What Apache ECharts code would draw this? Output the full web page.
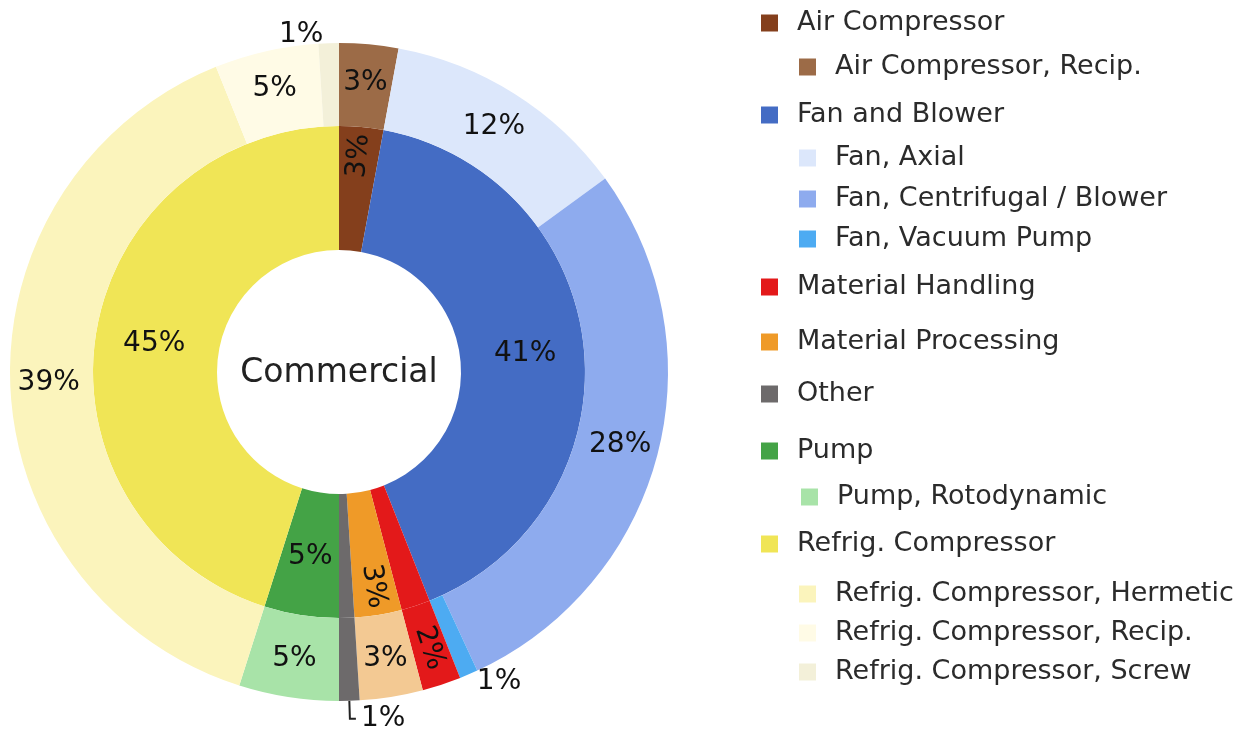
<!DOCTYPE html>
<html>
<head>
<meta charset="utf-8">
<script src="https://cdn.jsdelivr.net/npm/echarts@6/dist/echarts.min.js"></script>
<style>
  html, body { margin: 0; padding: 0; background: #fff; }
  #chart { width: 1236px; height: 729px; }
</style>
</head>
<body>
<div id="chart"></div>
<script>
// inner ring: equipment categories (share of total, %)
const categories = ['Air Compressor', 'Fan and Blower', 'Material Handling', 'Material Processing', 'Other', 'Pump', 'Refrig. Compressor']
const categoryValues = [2.9, 41.1, 1.9, 3.1, 1.0, 4.9, 45.1]

// outer ring: sub-types, in the same order round the ring
const subNames = [
  'Air Compressor, Recip.', 'Fan, Axial', 'Fan, Centrifugal / Blower', 'Fan, Vacuum Pump',
  'Material Handling', 'Material Processing', 'Other', 'Pump, Rotodynamic',
  'Refrig. Compressor, Hermetic', 'Refrig. Compressor, Recip.', 'Refrig. Compressor, Screw',
]
const subValues = [2.9, 12.1, 28.1, 0.9, 1.9, 3.1, 1.0, 4.9, 39.0, 5.1, 1.0]

// styles
const innerColors = ['#843f1c', '#446cc4', '#e3191a', '#ef9a28', '#6d6a6b', '#44a346', '#f0e556']
const outerColors = ['#9c6b47', '#dce7fb', '#8eabee', '#4dabf2', '#e3191a', '#f3c993', '#6d6a6b', '#a8e3a8', '#fbf4bc', '#fffbe6', '#f3f0d9']

const FONT = '"DejaVu Sans", Verdana, sans-serif'
const CENTER = [339, 372]

// per-item label tweaks (by name)
const innerLabelOpts = {
  'Air Compressor': { rotate: 'radial', offset: [30, 0] },
  'Material Handling': { show: false },
  'Material Processing': { rotate: 'radial', offset: [30, 0] },
  'Other': { show: false },
}
const outerLabelOpts = {
  'Material Handling': { rotate: 'radial' },
  'Fan, Vacuum Pump': { position: 'outside' },
  'Refrig. Compressor, Screw': { position: 'outside' },
  'Other': { position: 'outside' },
}
const outerLineOpts = {
  'Other': { show: true, length: 18, length2: 6, lineStyle: { color: '#222', width: 2 } },
}

const pctLabel = (p) => Math.round(p.percent) + '%'

const innerData = categories.map((name, i) => ({
  name,
  value: categoryValues[i],
  itemStyle: { color: innerColors[i] },
  label: innerLabelOpts[name] || {},
}))

const outerData = subNames.map((name, i) => ({
  name,
  value: subValues[i],
  itemStyle: { color: outerColors[i] },
  label: outerLabelOpts[name] || {},
  labelLine: outerLineOpts[name] || { show: false, length: 8, length2: 0 },
}))

// legend rows: name, icon left x, centre y
const legendRows = [
  ['Air Compressor', 761, 22],
  ['Air Compressor, Recip.', 799, 66],
  ['Fan and Blower', 761, 114],
  ['Fan, Axial', 799, 157],
  ['Fan, Centrifugal / Blower', 799, 198],
  ['Fan, Vacuum Pump', 799, 238],
  ['Material Handling', 761, 286],
  ['Material Processing', 761, 341],
  ['Other', 761, 393],
  ['Pump', 761, 450],
  ['Pump, Rotodynamic', 801, 496],
  ['Refrig. Compressor', 761, 543],
  ['Refrig. Compressor, Hermetic', 799, 593],
  ['Refrig. Compressor, Recip.', 799, 632],
  ['Refrig. Compressor, Screw', 799, 671],
]

const chart = echarts.init(document.getElementById('chart'))

const labelBase = {
  show: true,
  position: 'inside',
  formatter: pctLabel,
  color: '#111',
  fontFamily: FONT,
  fontSize: 28,
}

chart.setOption({
  backgroundColor: '#fff',
  animation: false,
  legend: legendRows.map(([name, x, y]) => ({
    data: [name],
    left: x,
    top: y - 15,
    padding: 0,
    icon: 'rect',
    itemWidth: 17,
    itemHeight: 17,
    textStyle: {
      fontFamily: FONT,
      fontSize: 27,
      lineHeight: 32,
      color: '#2b2b2b',
      padding: [0, 0, 0, 14],
    },
  })),
  graphic: [
    {
      type: 'text',
      x: CENTER[0],
      y: CENTER[1] + 1,
      style: {
        text: 'Commercial',
        fontFamily: FONT,
        fontSize: 33,
        fill: '#222',
        textAlign: 'center',
        textVerticalAlign: 'middle',
      },
    },
  ],
  series: [
    {
      name: 'Category',
      type: 'pie',
      center: CENTER,
      radius: [122, 246],
      startAngle: 90,
      clockwise: true,
      avoidLabelOverlap: false,
      label: labelBase,
      labelLine: { show: false },
      data: innerData,
    },
    {
      name: 'Sub-type',
      type: 'pie',
      center: CENTER,
      radius: [246, 329],
      startAngle: 90,
      clockwise: true,
      avoidLabelOverlap: false,
      label: labelBase,
      data: outerData,
    },
  ],
})
</script>
</body>
</html>
